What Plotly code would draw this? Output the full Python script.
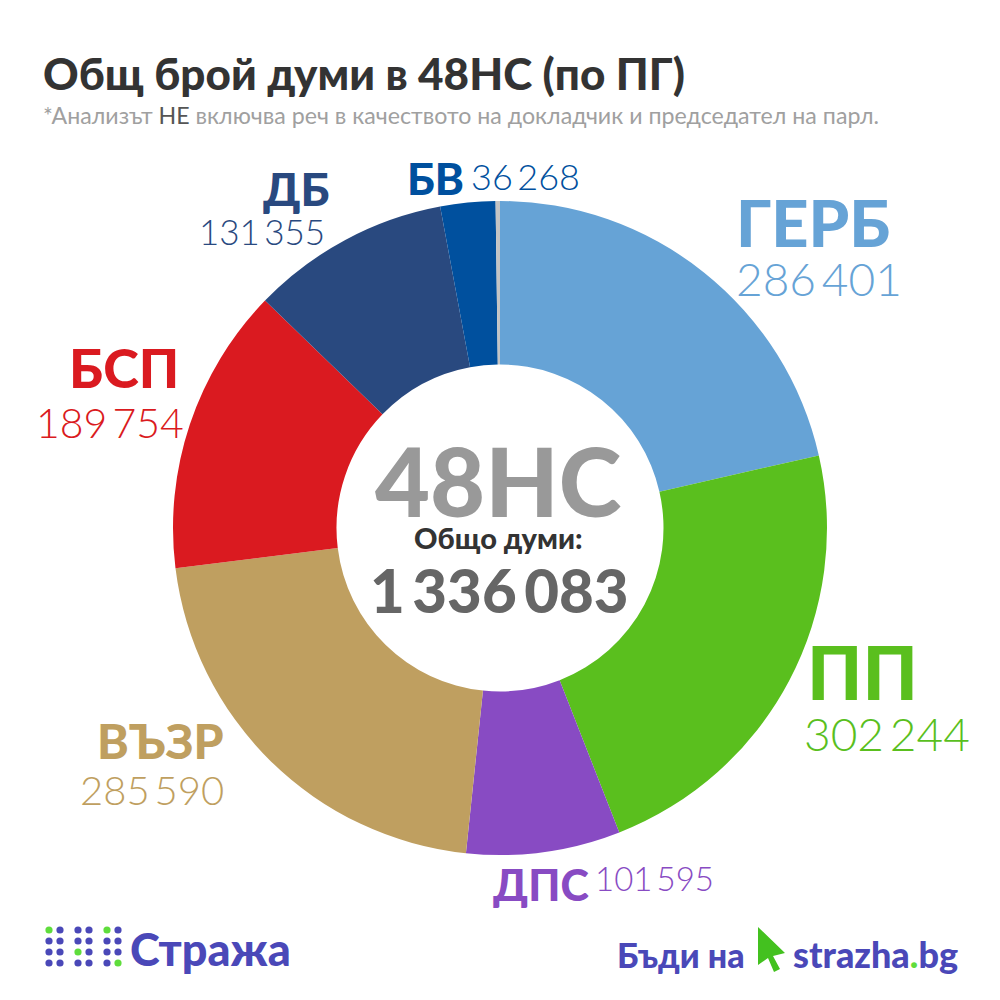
import plotly.graph_objects as go

# words per parliamentary group, clockwise from 12 o'clock
groups = ["ГЕРБ", "ПП", "ДПС", "ВЪЗР", "БСП", "ДБ", "БВ", "Други"]
words = [286401, 302244, 101595, 285590, 189754, 131355, 36268, 2876]
colors = ["#66A3D6", "#5ABF1E", "#884BC3", "#BF9F60", "#DA1A20", "#29497F", "#00509E", "#C4C4C4"]
word_labels = ["286\u2009401", "302\u2009244", "101\u2009595", "285\u2009590", "189\u2009754", "131\u2009355", "36\u2009268"]

FONT = "Lato"
BLUE = "#4A48B8"
GREEN = "#5FDD3C"

fig = go.Figure()
fig.add_trace(go.Pie(
    labels=groups, values=words, sort=False, direction="clockwise", rotation=0,
    hole=0.5, textinfo="none", showlegend=False,
    marker=dict(colors=colors, line=dict(width=0)),
    domain=dict(x=[0.173, 0.827], y=[0.145, 0.799]),
))

annotations = []


def txt(x, y, text, size, color, anchor="left", weight=900):
    annotations.append(dict(
        x=x, y=y, xref="x", yref="y", text=text,
        showarrow=False, xanchor=anchor, yanchor="middle",
        font=dict(size=size, color=color, family=FONT, weight=weight),
    ))


txt(41, 73, "Общ брой думи в 48НС (по ПГ)", 44, "#333333")
txt(41, 115, '*Анализът <span style="color:#555555">НЕ</span> включва реч в качеството на докладчик и председател на парл.',
    23.2, "#A0A0A0", weight=400)

# group name + word count labels
txt(734, 222, groups[0], 65, colors[0])
txt(734, 278, word_labels[0], 46, colors[0], weight=300)
txt(805, 671, groups[1], 74, colors[1])
txt(802, 733, word_labels[1], 46, colors[1], weight=300)
txt(491, 884, groups[2], 43, colors[2])
txt(593, 878, word_labels[2], 33, colors[2], weight=300)
txt(226, 740, groups[3], 48, colors[3], anchor="right")
txt(226, 790, word_labels[3], 40, colors[3], anchor="right", weight=300)
txt(181, 367, groups[4], 54, colors[4], anchor="right")
txt(186, 422, word_labels[4], 41, colors[4], anchor="right", weight=300)
txt(332, 188, groups[5], 46, colors[5], anchor="right")
txt(327, 231, word_labels[5], 35, colors[5], anchor="right", weight=300)
txt(405, 178, groups[6], 44, colors[6])
txt(469, 176, word_labels[6], 36, colors[6], weight=300)

# centre of the donut
txt(498, 480, "48НС", 95, "#999999", anchor="center")
txt(498, 537, "Общо думи:", 29, "#333333", anchor="center")
txt(499, 590, "1\u2009336\u2009083", 60, "#666666", anchor="center")

# footer
txt(128, 949, "Стража", 45, BLUE)
txt(615, 954, "Бъди на", 34, BLUE)
txt(791, 954, f'strazha<span style="color:{GREEN}">.</span>bg', 36, BLUE)

# logo dots and cursor
shapes = []
for cx in [49, 60, 78, 89, 107, 118]:
    for cy in [930, 941, 952, 963]:
        c = GREEN if (cx, cy) in [(49, 930), (107, 930), (78, 952), (118, 963)] else BLUE
        shapes.append(dict(type="circle", xref="x", yref="y", x0=cx - 3.6, x1=cx + 3.6,
                           y0=cy - 3.6, y1=cy + 3.6, fillcolor=c, line=dict(width=0)))
shapes.append(dict(type="path", xref="x", yref="y",
                   path="M758,927 L785,953 L773,956 L780,969 L774,972 L768,958 L758,965 Z",
                   fillcolor="#43C11F", line=dict(width=0)))

fig.update_layout(
    width=1000, height=1000, margin=dict(l=0, r=0, t=0, b=0),
    paper_bgcolor="white", plot_bgcolor="rgba(0,0,0,0)",
    xaxis=dict(range=[0, 1000], visible=False, domain=[0, 1]),
    yaxis=dict(range=[1000, 0], visible=False, domain=[0, 1]),
    annotations=annotations, shapes=shapes,
)
# page has a default 8px body margin, drop it so the chart fills the window
fig.write_html("out.html", config=dict(displayModeBar=False),
               post_script="document.body.style.margin='0';")
